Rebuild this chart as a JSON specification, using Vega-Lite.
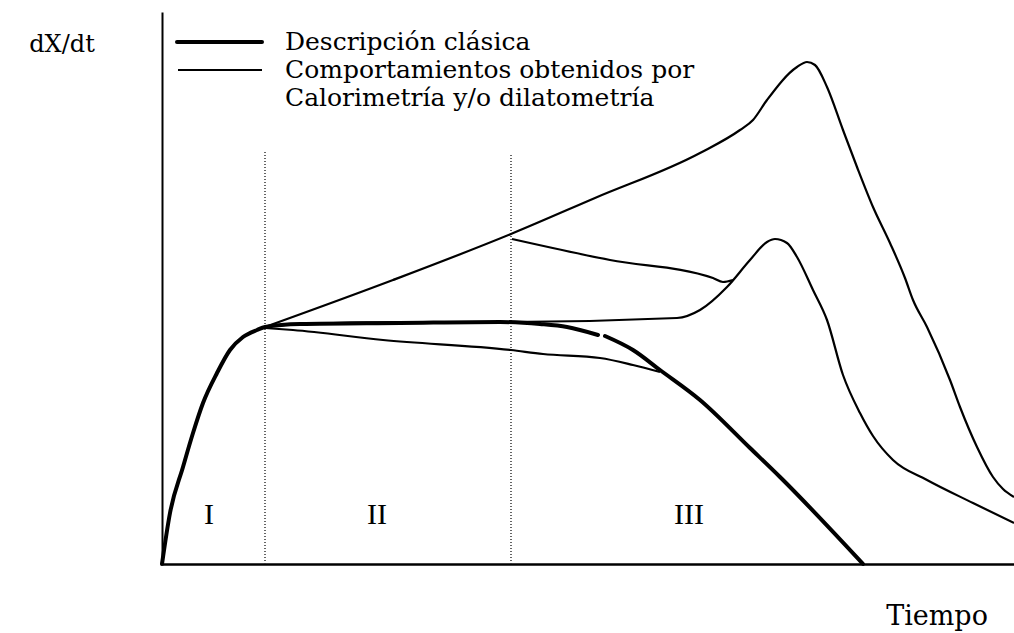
{
  "$schema": "https://vega.github.io/schema/vega-lite/v6.json",
  "width": 852,
  "height": 552,
  "autosize": {"type": "none"},
  "padding": {"left": 162, "top": 12, "right": 0, "bottom": 69},
  "background": "white",
  "config": {"view": {"stroke": null}, "font": "Liberation Serif"},
  "datasets": {
    "curves": [
      {"s": "clasica1", "o": 1, "x": 0, "y": 0},
      {"s": "clasica1", "o": 2, "x": 8, "y": 51},
      {"s": "clasica1", "o": 3, "x": 21, "y": 97},
      {"s": "clasica1", "o": 4, "x": 31, "y": 131},
      {"s": "clasica1", "o": 5, "x": 41, "y": 161},
      {"s": "clasica1", "o": 6, "x": 55, "y": 191},
      {"s": "clasica1", "o": 7, "x": 68, "y": 214},
      {"s": "clasica1", "o": 8, "x": 81, "y": 227},
      {"s": "clasica1", "o": 9, "x": 95, "y": 234},
      {"s": "clasica1", "o": 10, "x": 103, "y": 237},
      {"s": "clasica1", "o": 11, "x": 138, "y": 240},
      {"s": "clasica1", "o": 12, "x": 238, "y": 241},
      {"s": "clasica1", "o": 13, "x": 338, "y": 242},
      {"s": "clasica1", "o": 14, "x": 378, "y": 240},
      {"s": "clasica1", "o": 15, "x": 405, "y": 237},
      {"s": "clasica1", "o": 16, "x": 436, "y": 229},
      {"s": "clasica2", "o": 1, "x": 443, "y": 228},
      {"s": "clasica2", "o": 2, "x": 471, "y": 214},
      {"s": "clasica2", "o": 3, "x": 498, "y": 194},
      {"s": "clasica2", "o": 4, "x": 538, "y": 164},
      {"s": "clasica2", "o": 5, "x": 588, "y": 116},
      {"s": "clasica2", "o": 6, "x": 618, "y": 87},
      {"s": "clasica2", "o": 7, "x": 701, "y": 0},
      {"s": "superior", "o": 1, "x": 103, "y": 237},
      {"s": "superior", "o": 2, "x": 231, "y": 284},
      {"s": "superior", "o": 3, "x": 349, "y": 330},
      {"s": "superior", "o": 4, "x": 433, "y": 366},
      {"s": "superior", "o": 5, "x": 538, "y": 411},
      {"s": "superior", "o": 6, "x": 578, "y": 434},
      {"s": "superior", "o": 7, "x": 591, "y": 444},
      {"s": "superior", "o": 8, "x": 605, "y": 464},
      {"s": "superior", "o": 9, "x": 635, "y": 497},
      {"s": "superior", "o": 10, "x": 645, "y": 502},
      {"s": "superior", "o": 11, "x": 653, "y": 499},
      {"s": "superior", "o": 12, "x": 665, "y": 477},
      {"s": "superior", "o": 13, "x": 681, "y": 434},
      {"s": "superior", "o": 14, "x": 695, "y": 397},
      {"s": "superior", "o": 15, "x": 711, "y": 357},
      {"s": "superior", "o": 16, "x": 728, "y": 321},
      {"s": "superior", "o": 17, "x": 743, "y": 286},
      {"s": "superior", "o": 18, "x": 751, "y": 264},
      {"s": "superior", "o": 19, "x": 765, "y": 237},
      {"s": "superior", "o": 20, "x": 788, "y": 184},
      {"s": "superior", "o": 21, "x": 798, "y": 157},
      {"s": "superior", "o": 22, "x": 815, "y": 117},
      {"s": "superior", "o": 23, "x": 831, "y": 87},
      {"s": "superior", "o": 24, "x": 841, "y": 75},
      {"s": "superior", "o": 25, "x": 852, "y": 67},
      {"s": "rama", "o": 1, "x": 350, "y": 325},
      {"s": "rama", "o": 2, "x": 448, "y": 304},
      {"s": "rama", "o": 3, "x": 551, "y": 286},
      {"s": "rama", "o": 4, "x": 561, "y": 282},
      {"s": "rama", "o": 5, "x": 571, "y": 284},
      {"s": "pico", "o": 1, "x": 103, "y": 237},
      {"s": "pico", "o": 2, "x": 138, "y": 240},
      {"s": "pico", "o": 3, "x": 238, "y": 242},
      {"s": "pico", "o": 4, "x": 338, "y": 242},
      {"s": "pico", "o": 5, "x": 515, "y": 246},
      {"s": "pico", "o": 6, "x": 538, "y": 254},
      {"s": "pico", "o": 7, "x": 565, "y": 277},
      {"s": "pico", "o": 8, "x": 588, "y": 304},
      {"s": "pico", "o": 9, "x": 605, "y": 322},
      {"s": "pico", "o": 10, "x": 613, "y": 325},
      {"s": "pico", "o": 11, "x": 625, "y": 321},
      {"s": "pico", "o": 12, "x": 635, "y": 307},
      {"s": "pico", "o": 13, "x": 651, "y": 274},
      {"s": "pico", "o": 14, "x": 665, "y": 244},
      {"s": "pico", "o": 15, "x": 681, "y": 189},
      {"s": "pico", "o": 16, "x": 698, "y": 151},
      {"s": "pico", "o": 17, "x": 711, "y": 128},
      {"s": "pico", "o": 18, "x": 731, "y": 104},
      {"s": "pico", "o": 19, "x": 765, "y": 84},
      {"s": "pico", "o": 20, "x": 811, "y": 61},
      {"s": "pico", "o": 21, "x": 852, "y": 41},
      {"s": "inferior", "o": 1, "x": 103, "y": 236},
      {"s": "inferior", "o": 2, "x": 131, "y": 234},
      {"s": "inferior", "o": 3, "x": 221, "y": 224},
      {"s": "inferior", "o": 4, "x": 349, "y": 214},
      {"s": "inferior", "o": 5, "x": 381, "y": 210},
      {"s": "inferior", "o": 6, "x": 438, "y": 206},
      {"s": "inferior", "o": 7, "x": 471, "y": 199},
      {"s": "inferior", "o": 8, "x": 498, "y": 192},
      {"s": "leg_thick", "o": 1, "x": 15, "y": 522},
      {"s": "leg_thick", "o": 2, "x": 100, "y": 522},
      {"s": "leg_thin", "o": 1, "x": 16, "y": 494},
      {"s": "leg_thin", "o": 2, "x": 100, "y": 494}
    ],
    "dividers": [
      {"x": 103, "y": 0, "y2": 414},
      {"x": 349, "y": 0, "y2": 410}
    ],
    "labels": [
      {"t": "Descripción clásica", "x": 123, "y": 522},
      {"t": "Comportamientos obtenidos por", "x": 123, "y": 494},
      {"t": "Calorimetría y/o dilatometría", "x": 123, "y": 466}
    ],
    "axisLabels": [
      {"t": "dX/dt", "x": -100, "y": 519, "fs": 24},
      {"t": "Tiempo", "x": 775, "y": -53, "fs": 27}
    ],
    "regions": [
      {"t": "I", "x": 47, "y": 49},
      {"t": "II", "x": 215, "y": 49},
      {"t": "III", "x": 527, "y": 49}
    ]
  },
  "encoding": {
    "x": {"type": "quantitative", "scale": {"domain": [0, 852], "nice": false, "zero": false}},
    "y": {"type": "quantitative", "scale": {"domain": [0, 552], "nice": false, "zero": false}}
  },
  "layer": [
    {
      "data": {"name": "dividers"},
      "mark": {"type": "rule", "stroke": "#333", "strokeWidth": 1.5, "strokeDash": [1, 2]},
      "encoding": {
        "x": {"field": "x", "type": "quantitative"},
        "y": {"field": "y", "type": "quantitative"},
        "y2": {"field": "y2"}
      }
    },
    {
      "data": {"name": "curves"},
      "transform": [{"filter": "datum.s === 'clasica1' || datum.s === 'clasica2' || datum.s === 'leg_thick'"}],
      "mark": {"type": "line", "stroke": "black", "strokeWidth": 4, "interpolate": "monotone", "clip": false, "strokeCap": "round"},
      "encoding": {
        "x": {"field": "x", "type": "quantitative", "axis": {"domain": true, "domainColor": "black", "domainWidth": 2.5, "ticks": false, "labels": false, "grid": false, "title": null}},
        "y": {"field": "y", "type": "quantitative", "axis": {"domain": true, "domainColor": "black", "domainWidth": 2, "ticks": false, "labels": false, "grid": false, "title": null}},
        "detail": {"field": "s"},
        "order": {"field": "o"}
      }
    },
    {
      "data": {"name": "curves"},
      "transform": [{"filter": "datum.s !== 'clasica1' && datum.s !== 'clasica2' && datum.s !== 'leg_thick'"}],
      "mark": {"type": "line", "stroke": "black", "strokeWidth": 2.2, "interpolate": "monotone", "clip": false},
      "encoding": {
        "x": {"field": "x", "type": "quantitative"},
        "y": {"field": "y", "type": "quantitative"},
        "detail": {"field": "s"},
        "order": {"field": "o"}
      }
    },
    {
      "data": {"name": "labels"},
      "mark": {"type": "text", "align": "left", "baseline": "middle", "font": "DejaVu Serif", "fontSize": 25, "fill": "black"},
      "encoding": {
        "x": {"field": "x", "type": "quantitative"},
        "y": {"field": "y", "type": "quantitative"},
        "text": {"field": "t"}
      }
    },
    {
      "data": {"name": "axisLabels"},
      "mark": {"type": "text", "align": "center", "baseline": "middle", "font": "DejaVu Serif", "fill": "black"},
      "encoding": {
        "x": {"field": "x", "type": "quantitative"},
        "y": {"field": "y", "type": "quantitative"},
        "text": {"field": "t"},
        "size": {"field": "fs", "type": "quantitative", "scale": null, "legend": null}
      }
    },
    {
      "data": {"name": "regions"},
      "mark": {"type": "text", "align": "center", "baseline": "middle", "font": "Liberation Serif", "fontSize": 30, "fill": "black"},
      "encoding": {
        "x": {"field": "x", "type": "quantitative"},
        "y": {"field": "y", "type": "quantitative"},
        "text": {"field": "t"}
      }
    }
  ]
}
